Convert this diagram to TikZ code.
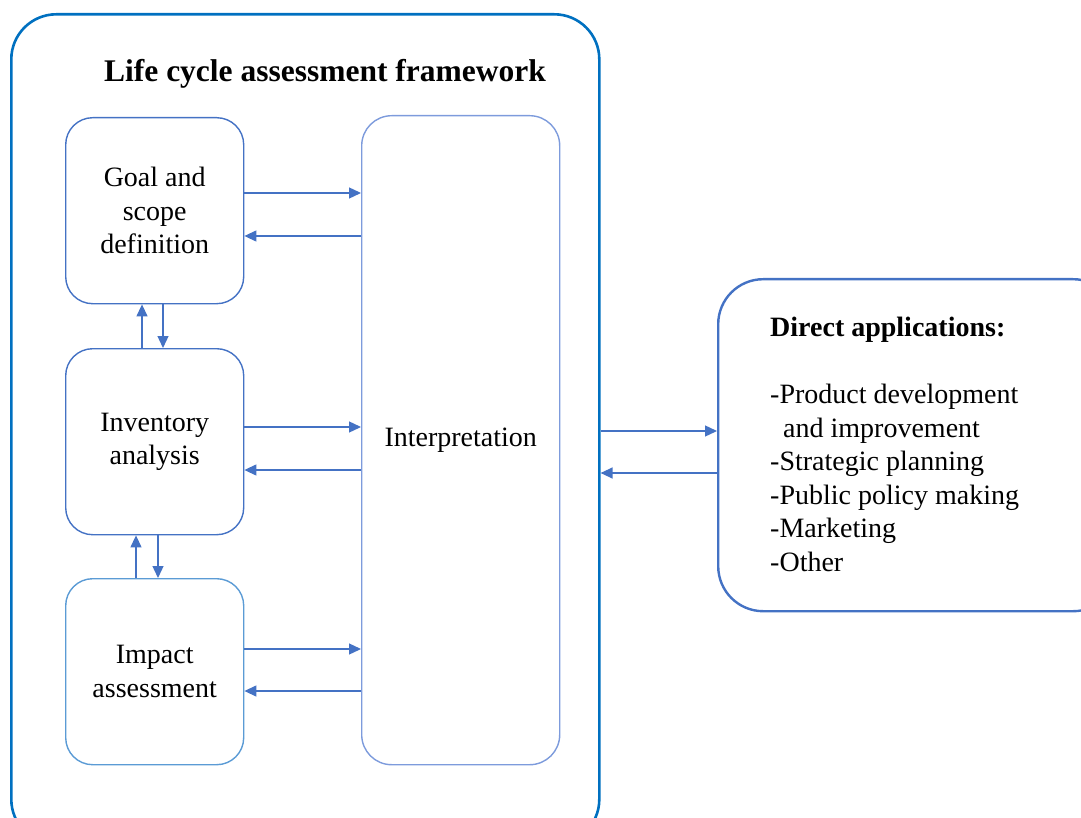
\documentclass[tikz,border=0pt]{standalone}
\usepackage{fontspec}
\setmainfont{Liberation Serif}
\usetikzlibrary{arrows.meta}
\definecolor{frameblue}{RGB}{0,112,192}
\definecolor{boxblue}{RGB}{68,114,196}
\definecolor{boxblueB}{RGB}{91,155,213}
\definecolor{interblue}{RGB}{125,155,220}
\begin{document}
\begin{tikzpicture}[x=1pt,y=-1pt,
  box/.style={draw=boxblue, line width=1.4pt, rounded corners=27pt, align=center,
    font=\fontsize{28}{33.5}\selectfont, inner sep=0pt, anchor=north west},
  conn/.style={draw=boxblue, line width=1.3pt, -{Triangle[length=12pt,width=11pt]}}]
\useasboundingbox (0,0) rectangle (1081,818);
\clip (0,0) rectangle (1081,818);
% outer frame
\node[draw=frameblue, line width=2.6pt, rounded corners=45pt, minimum width=588pt,
      minimum height=830pt, anchor=north west, inner sep=0pt] (frame) at (10,13) {};
\node[font=\fontsize{31.5}{36}\selectfont\bfseries] (title) at (325,74) {Life cycle assessment framework};
% inner boxes
\node[box, minimum width=178pt, minimum height=186pt] (goal) at (65,117) {Goal and\\scope\\definition};
\node[box, minimum width=178pt, minimum height=186pt] (inv) at (65,348) {Inventory\\analysis};
\node[box, draw=boxblueB, minimum width=178pt, minimum height=186pt] (imp) at (65,578) {Impact\\assessment};
\node[box, draw=interblue, rounded corners=30pt, minimum width=198pt, minimum height=649pt] (interp) at (361,115) {Interpretation};
% direct applications
\node[draw=boxblue, line width=2.4pt, rounded corners=45pt, minimum width=400pt,
      minimum height=332pt, anchor=north west, inner sep=0pt] (direct) at (717,278) {};
\node[anchor=north west, inner sep=0pt, align=left, font=\fontsize{28}{33.5}\selectfont] (apps) at (770,317)
 {\textbf{Direct applications:}\\[33.5pt]
  -Product development\\
  \hspace*{13pt}and improvement\\
  -Strategic planning\\
  -Public policy making\\
  -Marketing\\
  -Other};
% levels
\coordinate (r1) at (0,193); \coordinate (l1) at (0,236);
\coordinate (r2) at (0,427); \coordinate (l2) at (0,470);
\coordinate (r3) at (0,649); \coordinate (l3) at (0,691);
\coordinate (r4) at (0,431); \coordinate (l4) at (0,473);
\coordinate (u1) at (142,0); \coordinate (d1) at (163,0);
\coordinate (u2) at (136,0); \coordinate (d2) at (158,0);
\draw[conn] (goal.east |- r1) -- (interp.west |- r1);
\draw[conn] (interp.west |- l1) -- (goal.east |- l1);
\draw[conn] (inv.east |- r2) -- (interp.west |- r2);
\draw[conn] (interp.west |- l2) -- (inv.east |- l2);
\draw[conn] (imp.east |- r3) -- (interp.west |- r3);
\draw[conn] (interp.west |- l3) -- (imp.east |- l3);
\draw[conn] (frame.east |- r4) -- (direct.west |- r4);
\draw[conn] (direct.west |- l4) -- (frame.east |- l4);
\draw[conn] (inv.north -| u1) -- (goal.south -| u1);
\draw[conn] (goal.south -| d1) -- (inv.north -| d1);
\draw[conn] (imp.north -| u2) -- (inv.south -| u2);
\draw[conn] (inv.south -| d2) -- (imp.north -| d2);
\end{tikzpicture}
\end{document}
